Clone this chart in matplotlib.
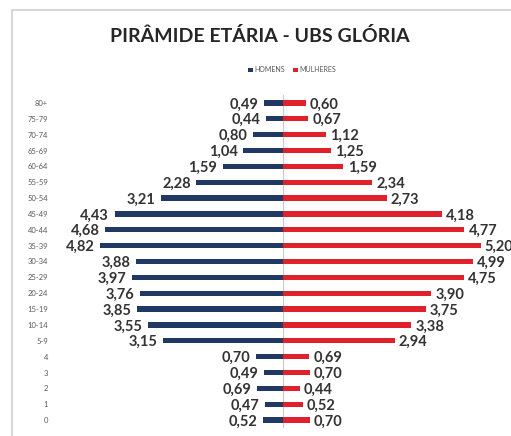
import matplotlib.pyplot as plt
from matplotlib.patches import Rectangle

# age groups (top to bottom as in the chart)
faixas = ['80+', '75-79', '70-74', '65-69', '60-64', '55-59', '50-54', '45-49',
          '40-44', '35-39', '30-34', '25-29', '20-24', '15-19', '10-14', '5-9',
          '4', '3', '2', '1', '0']
homens = [0.49, 0.44, 0.80, 1.04, 1.59, 2.28, 3.21, 4.43, 4.68, 4.82, 3.88,
          3.97, 3.76, 3.85, 3.55, 3.15, 0.70, 0.49, 0.69, 0.47, 0.52]
mulheres = [0.60, 0.67, 1.12, 1.25, 1.59, 2.34, 2.73, 4.18, 4.77, 5.20, 4.99,
            4.75, 3.90, 3.75, 3.38, 2.94, 0.69, 0.70, 0.44, 0.52, 0.70]

azul = '#1f3864'
vermelho = '#e0202a'
fonte = 'Lato'

fig = plt.figure(figsize=(5.11, 4.36), dpi=100)
W, H = 511, 436

# chart border (light gray frame, cropped at right/bottom)
fig.patches.append(Rectangle((12 / W, -0.05), 1.0, (H - 10) / H + 0.05,
                             transform=fig.transFigure, fill=False,
                             edgecolor='#d0d0d0', linewidth=1.2))

ax = fig.add_axes([55 / W, 8 / H, 456 / W, (H - 95 - 8) / H])
y = list(range(len(faixas)))

ax.barh(y, [-v for v in homens], height=0.34, color=azul, label='HOMENS')
ax.barh(y, mulheres, height=0.34, color=vermelho, label='MULHERES')

for i in y:
    ax.annotate(f'{homens[i]:.2f}'.replace('.', ','), (-homens[i], i),
                xytext=(-4, -1), textcoords='offset points', ha='right',
                va='center', fontsize=10.5, fontweight='bold', color='#333333',
                family=fonte)
    ax.annotate(f'{mulheres[i]:.2f}'.replace('.', ','), (mulheres[i], i),
                xytext=(3, -1), textcoords='offset points', ha='left',
                va='center', fontsize=10.5, fontweight='bold', color='#333333',
                family=fonte)

ax.axvline(0, color='#c8c8c8', linewidth=0.8, zorder=0)
ax.set_xlim(-6, 6)
ax.set_ylim(len(faixas) - 0.5, -0.5)
ax.set_yticks(y)
ax.set_yticklabels(faixas, fontsize=5.5, color='#595959', family=fonte)
ax.tick_params(axis='y', length=0, pad=5)
ax.set_xticks([])
for s in ax.spines.values():
    s.set_visible(False)
ax.set_facecolor('none')

fig.text(260 / W, 1 - 36 / H, 'PIRÂMIDE ETÁRIA - UBS GLÓRIA', ha='center',
         va='center', fontsize=14, fontweight='bold', color='#262626',
         family=fonte)

leg = fig.legend(loc='center', bbox_to_anchor=(292 / W, 1 - 70 / H), ncol=2,
                 frameon=False, handlelength=0.7, handleheight=0.7,
                 handletextpad=0.2, columnspacing=1.2,
                 prop={'family': fonte, 'size': 5})
for t in leg.get_texts():
    t.set_color('#595959')

fig.savefig('out.png', dpi=100)
